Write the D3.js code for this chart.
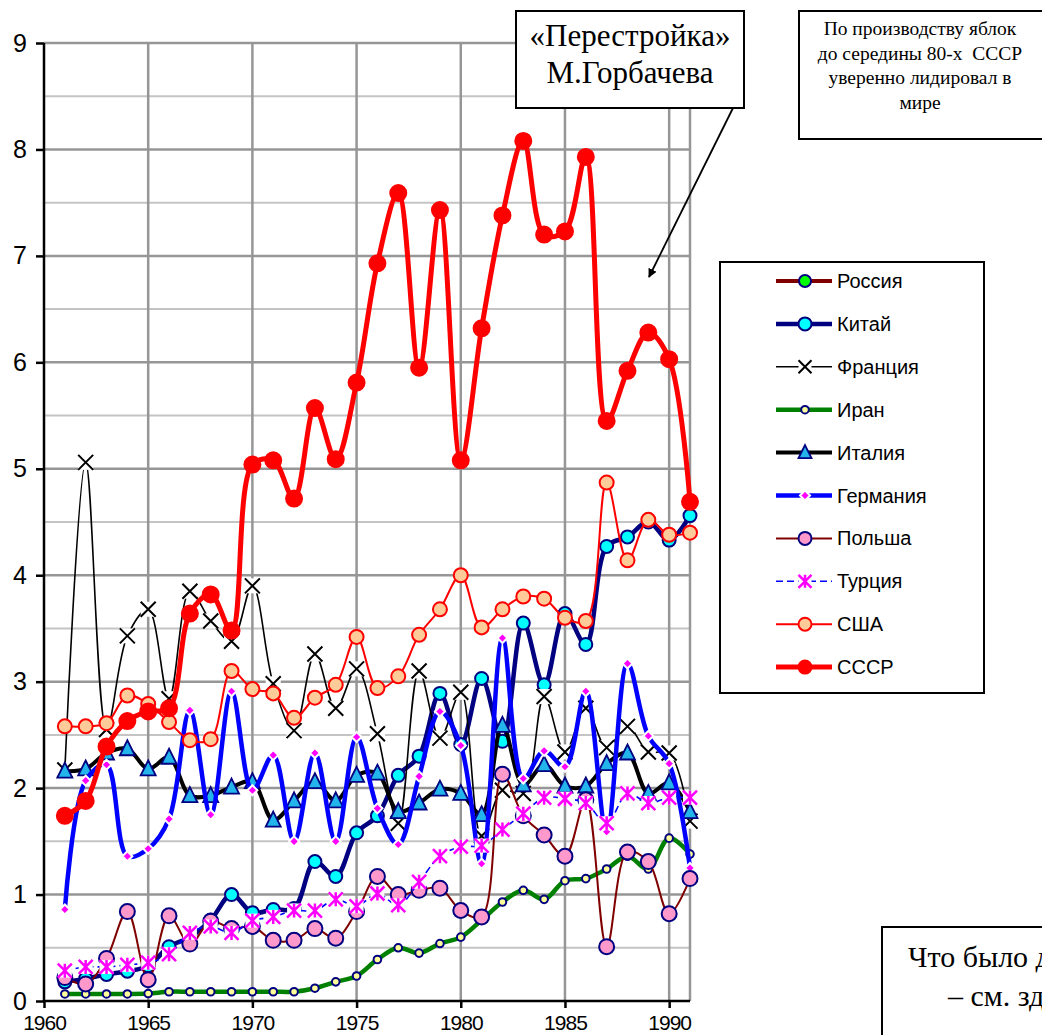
<!DOCTYPE html>
<meta charset="utf-8">
<head>
	<script type="text/javascript" src="https://cdn.jsdelivr.net/npm/d3@7"></script>
	<style>
		body { margin: 0; background: #fff; }
		svg { display: block; }
	</style>
</head>
<body>
	<svg id="chart" width="1042" height="1035"></svg>
</body>
<script type="text/javascript">
	// years 1961..1991
	var years = d3.range(1961, 1992);

	// values
	var russia = [];   // no values drawn for this period, legend only
	var china = [0.18, 0.21, 0.25, 0.28, 0.33, 0.51, 0.6, 0.76, 1.0, 0.83, 0.86, 0.87, 1.31, 1.17, 1.58,
		1.74, 2.12, 2.3, 2.89, 2.41, 3.03, 2.44, 3.55, 2.97, 3.64, 3.35, 4.27, 4.36, 4.5, 4.33, 4.56];
	var france = [2.17, 5.06, 2.55, 3.43, 3.68, 2.84, 3.85, 3.57, 3.38, 3.9, 2.98, 2.54, 3.26, 2.75, 3.12,
		2.51, 1.67, 3.1, 2.47, 2.9, 1.55, 1.98, 1.95, 2.86, 2.34, 2.75, 2.38, 2.58, 2.34, 2.33, 1.69];
	var iran = [0.066, 0.066, 0.066, 0.066, 0.07, 0.087, 0.087, 0.087, 0.087, 0.087, 0.087, 0.087, 0.12, 0.18, 0.235,
		0.39, 0.5, 0.45, 0.54, 0.6, 0.76, 0.93, 1.04, 0.955, 1.13, 1.15, 1.24, 1.36, 1.24, 1.53, 1.38];
	var italy = [2.16, 2.18, 2.33, 2.37, 2.18, 2.29, 1.93, 1.93, 2.01, 2.06, 1.7, 1.88, 2.06, 1.88, 2.12,
		2.14, 1.78, 1.86, 1.99, 1.95, 1.75, 2.59, 2.03, 2.22, 2.02, 2.02, 2.23, 2.33, 1.95, 2.05, 1.78];
	var germany = [0.86, 2.07, 2.22, 1.36, 1.43, 1.71, 2.73, 1.75, 2.91, 1.98, 2.31, 1.5, 2.33, 1.5, 2.48,
		1.81, 1.47, 2.11, 2.72, 2.4, 1.29, 3.41, 2.09, 2.35, 2.2, 2.91, 1.59, 3.17, 2.49, 2.23, 1.25];
	var poland = [0.22, 0.16, 0.4, 0.84, 0.2, 0.8, 0.535, 0.75, 0.68, 0.7, 0.57, 0.57, 0.68, 0.59, 0.84,
		1.17, 1.0, 1.04, 1.06, 0.85, 0.79, 2.13, 1.74, 1.56, 1.36, 1.89, 0.51, 1.4, 1.31, 0.82, 1.15];
	var turkey = [0.285, 0.32, 0.32, 0.34, 0.36, 0.44, 0.64, 0.7, 0.64, 0.755, 0.79, 0.85, 0.85, 0.955, 0.89,
		1.01, 0.9, 1.12, 1.36, 1.45, 1.46, 1.61, 1.76, 1.91, 1.9, 1.86, 1.67, 1.95, 1.86, 1.91, 1.91];
	var usa = [2.58, 2.58, 2.61, 2.87, 2.79, 2.62, 2.45, 2.46, 3.1, 2.93, 2.89, 2.66, 2.85, 2.97, 3.42,
		2.94, 3.05, 3.44, 3.68, 4.0, 3.51, 3.68, 3.8, 3.78, 3.6, 3.57, 4.87, 4.14, 4.52, 4.38, 4.4];
	var ussr = [1.74, 1.88, 2.39, 2.63, 2.72, 2.75, 3.64, 3.82, 3.48, 5.04, 5.08, 4.72, 5.57, 5.09, 5.81,
		6.93, 7.59, 5.95, 7.43, 5.08, 6.32, 7.38, 8.08, 7.2, 7.23, 7.93, 5.45, 5.92, 6.28, 6.03, 4.69];

	var names = ["Россия", "Китай", "Франция", "Иран", "Италия", "Германия", "Польша", "Турция", "США", "СССР"];
	var yTicks = d3.range(0, 10);
	var xTicks = [1960, 1965, 1970, 1975, 1980, 1985, 1990];

	var series = [
		{name: names[0], values: russia, line: "#800000", lw: 4, marker: "circle", r: 6, fill: "#00FF00", ms: "#000080"},
		{name: names[1], values: china, line: "#000080", lw: 4.5, marker: "circle", r: 6.5, fill: "#00FFFF", ms: "#000080"},
		{name: names[2], values: france, line: "#000000", lw: 1.6, marker: "x", r: 7.5, fill: "#fff", ms: "#000"},
		{name: names[3], values: iran, line: "#008000", lw: 4.5, marker: "circle", r: 3.8, fill: "#FFFF99", ms: "#000080"},
		{name: names[4], values: italy, line: "#000000", lw: 4, marker: "triangle", r: 7.5, fill: "#22B4EA", ms: "#000080"},
		{name: names[5], values: germany, line: "#0000FF", lw: 4.5, marker: "diamond", r: 5, fill: "#FF00FF", ms: "#fff"},
		{name: names[6], values: poland, line: "#800000", lw: 2, marker: "circle", r: 7.5, fill: "#FF99CC", ms: "#000080"},
		{name: names[7], values: turkey, line: "#0000FF", lw: 1.6, dash: "7,4", marker: "star", r: 7, fill: "#fff", ms: "#FF00FF"},
		{name: names[8], values: usa, line: "#FF0000", lw: 2, marker: "circle", r: 7, fill: "#FFCC99", ms: "#FF0000"},
		{name: names[9], values: ussr, line: "#FF0000", lw: 5, marker: "circle", r: 8, fill: "#FF0000", ms: "#FF0000"}
	];

	var svg = d3.select('#chart');
	var x = d3.scaleLinear().domain([1960, 1991]).range([44, 690]);
	var y = d3.scaleLinear().domain([0, 9]).range([1001, 43]);

	// grid
	var grid = svg.append("g");
	grid.selectAll(".minor").data(d3.range(0.5, 9, 1)).enter().append("line")
		.attr("x1", x(1960)).attr("x2", x(1991))
		.attr("y1", function(d){ return y(d); }).attr("y2", function(d){ return y(d); })
		.attr("stroke", "#c4c4c4").attr("stroke-width", 2);
	grid.selectAll(".major").data(yTicks.slice(1)).enter().append("line")
		.attr("x1", x(1960)).attr("x2", x(1991))
		.attr("y1", function(d){ return y(d); }).attr("y2", function(d){ return y(d); })
		.attr("stroke", "#969696").attr("stroke-width", 2.5);
	grid.selectAll(".vert").data([1965, 1970, 1975, 1980, 1985, 1990, 1991]).enter().append("line")
		.attr("x1", function(d){ return x(d); }).attr("x2", function(d){ return x(d); })
		.attr("y1", y(9)).attr("y2", y(0))
		.attr("stroke", "#969696").attr("stroke-width", 2.5);

	// series
	var line = d3.line()
		.x(function(d){ return x(d.year); })
		.y(function(d){ return y(d.v); })
		.curve(d3.curveCatmullRom.alpha(0.5));

	function drawMarker(g, s, cx, cy) {
		var r = s.r;
		if (s.marker == "circle") {
			g.append("circle").attr("cx", cx).attr("cy", cy).attr("r", r)
				.attr("fill", s.fill).attr("stroke", s.ms).attr("stroke-width", 2);
		} else if (s.marker == "x") {
			g.append("rect").attr("x", cx - r).attr("y", cy - r).attr("width", 2 * r).attr("height", 2 * r).attr("fill", "#fff");
			g.append("path").attr("d", "M" + (cx - r) + "," + (cy - r) + "L" + (cx + r) + "," + (cy + r) +
				"M" + (cx + r) + "," + (cy - r) + "L" + (cx - r) + "," + (cy + r))
				.attr("stroke", s.ms).attr("stroke-width", 2).attr("fill", "none");
		} else if (s.marker == "star") {
			g.append("rect").attr("x", cx - r).attr("y", cy - r).attr("width", 2 * r).attr("height", 2 * r).attr("fill", "#fff");
			g.append("path").attr("d", "M" + (cx - r) + "," + (cy - r) + "L" + (cx + r) + "," + (cy + r) +
				"M" + (cx + r) + "," + (cy - r) + "L" + (cx - r) + "," + (cy + r) +
				"M" + cx + "," + (cy - r) + "L" + cx + "," + (cy + r))
				.attr("stroke", s.ms).attr("stroke-width", 2.5).attr("fill", "none");
		} else if (s.marker == "triangle") {
			g.append("path").attr("d", "M" + cx + "," + (cy - r - 1) + "L" + (cx + r) + "," + (cy + r - 1) + "L" + (cx - r) + "," + (cy + r - 1) + "Z")
				.attr("fill", s.fill).attr("stroke", s.ms).attr("stroke-width", 1.8);
		} else if (s.marker == "diamond") {
			g.append("path").attr("d", "M" + cx + "," + (cy - r) + "L" + (cx + r) + "," + cy + "L" + cx + "," + (cy + r) + "L" + (cx - r) + "," + cy + "Z")
				.attr("fill", s.fill).attr("stroke", s.ms).attr("stroke-width", 2);
		}
	}

	var plot = svg.append("g");
	series.forEach(function(s) {
		if (!s.values.length) return;
		var pts = s.values.map(function(v, i){ return {year: years[i], v: v}; });
		var g = plot.append("g");
		g.append("path").attr("d", line(pts))
			.attr("fill", "none").attr("stroke", s.line).attr("stroke-width", s.lw)
			.attr("stroke-dasharray", s.dash || null).attr("stroke-linejoin", "round");
		pts.forEach(function(p){ drawMarker(g, s, x(p.year), y(p.v)); });
	});

	// axes
	var yAxis = svg.append("g").attr("transform", "translate(" + x(1960) + ",0)")
		.call(d3.axisLeft(y).tickValues(yTicks).tickFormat(d3.format("d")).tickSize(8).tickPadding(9));
	yAxis.selectAll("text").attr("font-family", "Liberation Sans, Arial, sans-serif").attr("font-size", 25).attr("fill", "#000");
	yAxis.selectAll("line").attr("stroke", "#000").attr("stroke-width", 2.5);
	yAxis.select(".domain").attr("stroke", "#000").attr("stroke-width", 2.5).attr("d", "M0," + y(0) + "V" + y(9));

	var xAxis = svg.append("g").attr("transform", "translate(0," + y(0) + ")")
		.call(d3.axisBottom(x).tickValues(xTicks).tickFormat(d3.format("d")).tickSize(7).tickPadding(7));
	xAxis.selectAll("text").attr("font-family", "Liberation Sans, Arial, sans-serif").attr("font-size", 21)
		.attr("letter-spacing", -1).attr("fill", "#000");
	xAxis.selectAll("line").attr("stroke", "#000").attr("stroke-width", 2.5);
	xAxis.select(".domain").attr("stroke", "#000").attr("stroke-width", 2.5).attr("d", "M" + x(1960) + ",0H" + x(1991));

	// legend
	var legend = svg.append("g");
	legend.append("rect").attr("x", 720).attr("y", 262).attr("width", 264).attr("height", 431)
		.attr("fill", "#fff").attr("stroke", "#000").attr("stroke-width", 2);
	series.forEach(function(s, i) {
		var cy = 281 + i * 42.9;
		var g = legend.append("g");
		g.append("line").attr("x1", 776).attr("x2", 832).attr("y1", cy).attr("y2", cy)
			.attr("stroke", s.line).attr("stroke-width", s.lw).attr("stroke-dasharray", s.dash || null);
		var ms = Object.assign({}, s, {r: Math.min(s.r, 6.5)});
		drawMarker(g, ms, 805, cy);
		g.append("text").attr("x", 837).attr("y", cy + 7).text(s.name)
			.attr("font-family", "Liberation Sans, Arial, sans-serif").attr("font-size", 20);
	});

	// notes
	var notes = svg.append("g").attr("font-family", "Liberation Serif, Times New Roman, serif");
	notes.append("rect").attr("x", 516).attr("y", 11).attr("width", 228).attr("height", 97)
		.attr("fill", "#fff").attr("stroke", "#000").attr("stroke-width", 2);
	notes.append("text").attr("x", 630).attr("y", 46).attr("text-anchor", "middle").attr("font-size", 31).text("«Перестройка»");
	notes.append("text").attr("x", 630).attr("y", 83).attr("text-anchor", "middle").attr("font-size", 31).text("М.Горбачева");

	svg.append("defs").append("marker").attr("id", "arrow").attr("viewBox", "0 0 10 10")
		.attr("refX", 9).attr("refY", 5).attr("markerWidth", 9).attr("markerHeight", 9).attr("orient", "auto")
		.attr("markerUnits", "userSpaceOnUse")
		.append("path").attr("d", "M0,0L10,5L0,10Z").attr("fill", "#000");
	svg.append("line").attr("x1", 733).attr("y1", 108).attr("x2", 649).attr("y2", 277)
		.attr("stroke", "#000").attr("stroke-width", 1.8).attr("marker-end", "url(#arrow)");

	notes.append("rect").attr("x", 799).attr("y", 11).attr("width", 250).attr("height", 128)
		.attr("fill", "#fff").attr("stroke", "#000").attr("stroke-width", 2);
	var noteLines = ["По производству яблок", "до середины 80-х  СССР", "уверенно лидировал в", "мире"];
	notes.selectAll(".n2").data(noteLines).enter().append("text")
		.attr("x", 920).attr("y", function(d, i){ return 35 + i * 24.5; })
		.attr("text-anchor", "middle").attr("font-size", 19.5).attr("xml:space", "preserve").text(function(d){ return d; });

	// this box runs off the right edge of the page in the reference too
	notes.append("rect").attr("x", 882).attr("y", 927).attr("width", 200).attr("height", 150)
		.attr("fill", "#fff").attr("stroke", "#000").attr("stroke-width", 2);
	notes.append("text").attr("x", 908).attr("y", 967).attr("font-size", 30).text("Что было дальше");
	notes.append("text").attr("x", 948).attr("y", 1006).attr("font-size", 30).text("– см. здесь");
</script>
